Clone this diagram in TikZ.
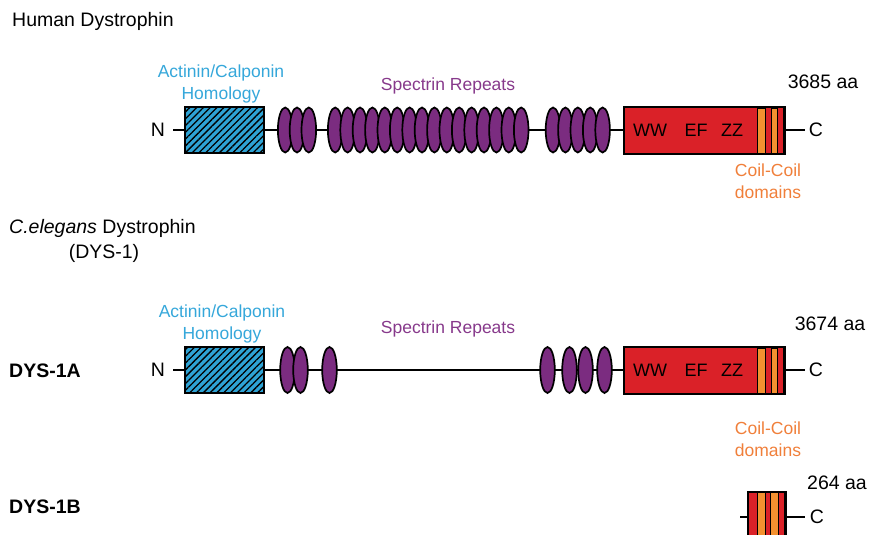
\documentclass[tikz,border=0pt]{standalone}
\usepackage{fontspec}
\setmainfont{Liberation Sans}
\usetikzlibrary{patterns.meta}
\definecolor{chblue}{HTML}{2EA3D5}
\definecolor{chtext}{HTML}{35A7DA}
\definecolor{specfill}{HTML}{7B2C80}
\definecolor{spectext}{HTML}{87398B}
\definecolor{domred}{HTML}{DA2128}
\definecolor{ccorange}{HTML}{F39130}
\definecolor{cctext}{HTML}{F07F3A}
\tikzset{
  conn/.style={line width=1.8pt, black},
  big/.style={font=\fontsize{19.5}{22}\selectfont, inner sep=0pt},
  bigb/.style={font=\fontsize{19.5}{22}\selectfont\bfseries, inner sep=0pt},
  lbl/.style={font=\fontsize{17.5}{22}\selectfont, align=center, inner sep=0pt},
  dom/.style={font=\fontsize{18}{22}\selectfont, inner sep=0pt},
  spec/.style={fill=specfill, draw=black, line width=1.7pt},
  chbox/.style={draw=black, line width=1.5pt, fill=chblue,
    postaction={pattern={Lines[angle=45,distance=4.8pt,line width=1.3pt]}, pattern color=black},
    minimum width=79pt, minimum height=46pt, inner sep=0pt},
  redbox/.style={draw=black, line width=1.5pt, fill=domred, minimum width=160pt,
    minimum height=46pt, inner sep=0pt},
  stripe/.style={fill=ccorange, draw=black, line width=0.7pt},
  outl/.style={draw=black, line width=1.5pt},
}
\begin{document}
\begin{tikzpicture}[x=1pt,y=-1pt]
\useasboundingbox (0,0) rectangle (870,535);

% ---------- Human ----------
\node[big, anchor=west] (htitle) at (12,21) {Human Dystrophin};
\node[big] (hN) at (158,130) {N};
\node[big] (hC) at (816,130) {C};
\draw[conn] ([xshift=8]hN.east) -- ([xshift=-4]hC.west);
\node[lbl, text=chtext] (hchl) at (221,84) {Actinin/Calponin\\Homology};
\node[lbl, text=spectext] (hspl) at (448,86) {Spectrin Repeats};
\node[chbox] (hch) at (224.5,130) {};
\foreach \x in {285.2,297,308.8}
  \filldraw[spec] (\x,130) ellipse [x radius=7.3, y radius=22.5];
\foreach \i in {0,...,15}
  \filldraw[spec] (335.2+12.4*\i,130) ellipse [x radius=7.3, y radius=22.5];
\foreach \i in {0,...,4}
  \filldraw[spec] (553+12.4*\i,130) ellipse [x radius=7.3, y radius=22.5];
\node[redbox] (hdom) at (704,130.5) {};
\filldraw[stripe] (757,108) rectangle (765,153);
\filldraw[stripe] (771,108) rectangle (777,153);
\draw[outl] (hdom.north west) rectangle (hdom.south east);
\node[dom] (hww) at (650,130) {WW};
\node[dom] (hef) at (696,130) {EF};
\node[dom] (hzz) at (732,130) {ZZ};
\node[big] (haa) at (823,82) {3685 aa};
\node[lbl, text=cctext] (hcc) at (768,181) {Coil-Coil\\domains};

% ---------- C. elegans ----------
\node[big, anchor=west] (ctitle) at (9,228) {\textit{C.elegans} Dystrophin};
\node[big] (ctitle2) at (104,253) {(DYS-1)};

% ---------- DYS-1A ----------
\node[bigb, anchor=west] (aname) at (9,371) {DYS-1A};
\node[big] (aN) at (158,370) {N};
\node[big] (aC) at (816,370) {C};
\draw[conn] ([xshift=8]aN.east) -- ([xshift=-4]aC.west);
\node[lbl, text=chtext] (achl) at (222,324) {Actinin/Calponin\\Homology};
\node[lbl, text=spectext] (aspl) at (448,329) {Spectrin Repeats};
\node[chbox] (ach) at (224.5,370) {};
\foreach \x in {287.5,300.5,329.5,547.5,569.5,585.5,604.5}
  \filldraw[spec] (\x,370) ellipse [x radius=7.3, y radius=23];
\node[redbox] (adom) at (704,370.5) {};
\filldraw[stripe] (757,348) rectangle (765,393);
\filldraw[stripe] (771,348) rectangle (777,393);
\draw[outl] (adom.north west) rectangle (adom.south east);
\node[dom] (aww) at (650,370) {WW};
\node[dom] (aef) at (696,370) {EF};
\node[dom] (azz) at (732,370) {ZZ};
\node[big] (aaa) at (830,324) {3674 aa};
\node[lbl, text=cctext] (acc) at (768,439) {Coil-Coil\\domains};

% ---------- DYS-1B ----------
\node[bigb, anchor=west] (bname) at (9,507) {DYS-1B};
\coordinate (bL) at (740,517);
\node[big] (bC) at (817,517) {C};
\node[draw=black, line width=1.5pt, fill=domred, minimum width=37pt, minimum height=50pt, inner sep=0pt] (bdom) at (766.5,517) {};
\draw[conn] (bL) -- (bdom.west);
\draw[conn] (bdom.east) -- ([xshift=-5]bC.west);
\filldraw[stripe] (757,492) rectangle (765,542);
\filldraw[stripe] (770,492) rectangle (778,542);
\draw[outl] (bdom.north west) rectangle (bdom.south east);
\node[big] (baa) at (837,483) {264 aa};
\end{tikzpicture}
\end{document}
